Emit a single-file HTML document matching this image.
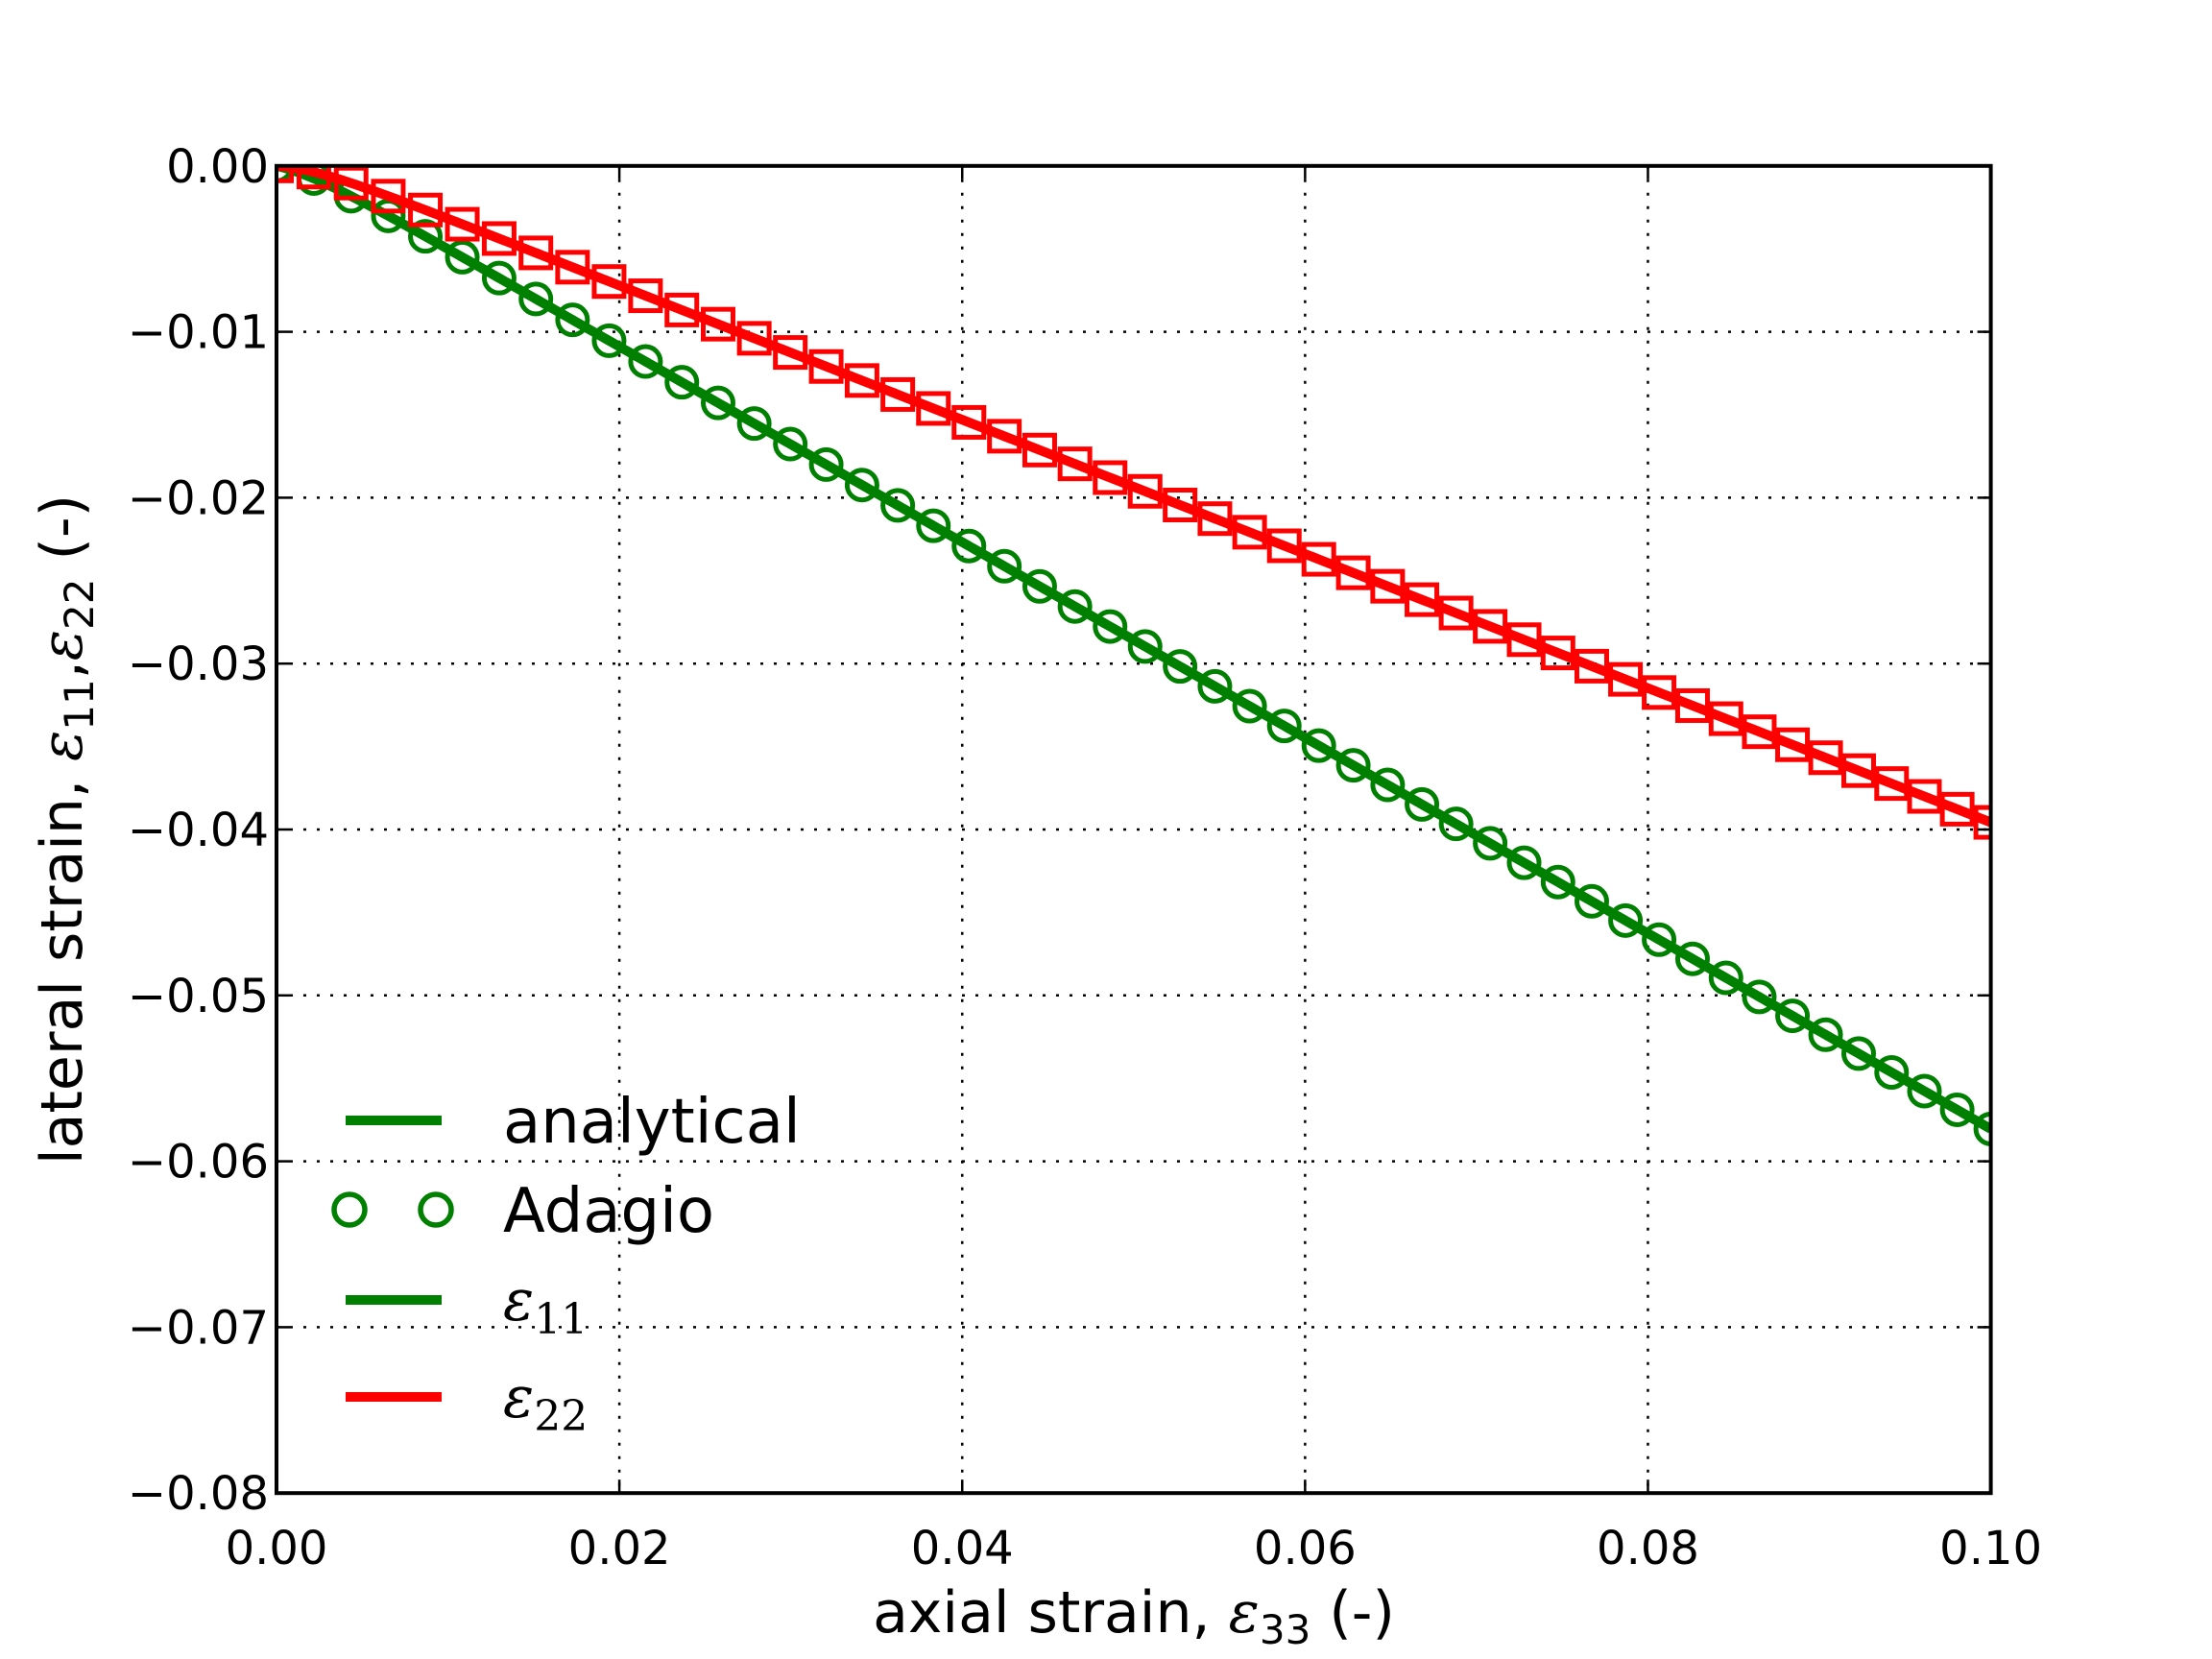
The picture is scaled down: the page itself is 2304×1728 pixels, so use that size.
<!DOCTYPE html>
<html><head><meta charset="utf-8"><style>
html,body{margin:0;padding:0;background:#fff;}
svg{display:block;}
text{font-family:"DejaVu Sans","Liberation Sans",sans-serif;}
.m{font-family:"DejaVu Serif","Liberation Serif",serif;font-style:italic;}
</style></head><body>
<svg id="s" width="2304" height="1728" viewBox="0 0 2304 1728" xmlns="http://www.w3.org/2000/svg">
<rect width="2304" height="1728" fill="#fff"/>
<g id="grid" stroke="#000" stroke-width="2.5" stroke-dasharray="3,11"></g>
<defs><clipPath id="c"><rect x="288" y="172.8" width="1785.6" height="1382.4"/></clipPath></defs>
<g id="data" clip-path="url(#c)"></g>
<rect x="288" y="172.8" width="1785.6" height="1382.4" fill="none" stroke="#000" stroke-width="4"/>
<g id="ticks" stroke="#000" stroke-width="2.5"></g>
<g id="labels" font-size="48" fill="#000"></g>
<!-- legend -->
<line x1="360" y1="1167" x2="460" y2="1167" stroke="#008000" stroke-width="10"/>
<circle cx="364" cy="1260" r="16" fill="none" stroke="#008000" stroke-width="5.5"/>
<circle cx="454" cy="1260" r="16" fill="none" stroke="#008000" stroke-width="5.5"/>
<line x1="360" y1="1354" x2="460" y2="1354" stroke="#008000" stroke-width="10"/>
<line x1="360" y1="1455" x2="460" y2="1455" stroke="#ff0000" stroke-width="10"/>
<text x="524" y="1190" font-size="64">analytical</text>
<text x="524" y="1283" font-size="64">Adagio</text>
<text x="524" y="1375" font-size="60" class="m">ε<tspan font-style="normal" font-size="44" dy="14">11</tspan></text>
<text x="524" y="1476" font-size="60" class="m">ε<tspan font-style="normal" font-size="44" dy="14">22</tspan></text>
<text x="1181" y="1700" font-size="60" text-anchor="middle">axial strain, <tspan class="m">ε</tspan><tspan font-size="42" dy="12">33</tspan><tspan dy="-12"> (-)</tspan></text>
<text transform="translate(85,864) rotate(-90)" font-size="60" text-anchor="middle">lateral strain, <tspan class="m">ε</tspan><tspan font-size="42" dy="12">11</tspan><tspan dy="-12">,</tspan><tspan class="m">ε</tspan><tspan font-size="42" dy="12">22</tspan><tspan dy="-12"> (-)</tspan></text>
</svg>
<script>
var NS="http://www.w3.org/2000/svg";
function el(p,t,a){var e=document.createElementNS(NS,t);for(var k in a)e.setAttribute(k,a[k]);p.appendChild(e);return e;}
var L=288,R=2073.6,T=172.8,B=1555.2;
function X(v){return L+(v/0.1)*(R-L);}
function Y(v){return T+(-v/0.08)*(B-T);}
var g=document.getElementById('grid'),tk=document.getElementById('ticks'),lb=document.getElementById('labels');
for(var i=0;i<=5;i++){var x=X(i*0.02);
 if(i>0&&i<5)el(g,'line',{x1:x,y1:T,x2:x,y2:B});
 el(tk,'line',{x1:x,y1:B,x2:x,y2:B-14});el(tk,'line',{x1:x,y1:T,x2:x,y2:T+14});
 var t=el(lb,'text',{x:x,y:1629,'text-anchor':'middle'});t.textContent=(i*0.02).toFixed(2);}
for(var j=0;j<=8;j++){var y=Y(-j*0.01);
 if(j>0&&j<8)el(g,'line',{x1:L,y1:y,x2:R,y2:y});
 el(tk,'line',{x1:L,y1:y,x2:L+14,y2:y});el(tk,'line',{x1:R,y1:y,x2:R-14,y2:y});
 var t=el(lb,'text',{x:280,y:y+17,'text-anchor':'end'});t.textContent=j==0?'0.00':'\u22120.0'+j;}
var d=document.getElementById('data');
function fg(x){return -0.5895*x+0.0009*(1-Math.exp(-x/0.0025));}
function fr(x){return -0.4045*x+0.00088*(1-Math.exp(-x/0.0025));}
function path(f,c){var s='';for(var k=0;k<=400;k++){var x=k*0.1/400;s+=(k?'L':'M')+X(x).toFixed(2)+','+Y(f(x)).toFixed(2);}
 el(d,'path',{d:s,fill:'none',stroke:c,'stroke-width':10,'stroke-linejoin':'round'});}
var xs=[],x=0;while(x<0.0995){xs.push(x);x+=0.00218-0.0028*x;}xs.push(0.1);
path(fg,'#008000');
xs.forEach(function(v){el(d,'circle',{cx:X(v),cy:Y(fg(v)),r:15.5,fill:'none',stroke:'#008000','stroke-width':5});});
path(fr,'#ff0000');
xs.forEach(function(v){el(d,'rect',{x:X(v)-15.5,y:Y(fr(v))-15.5,width:31,height:31,fill:'none',stroke:'#ff0000','stroke-width':5});});
</script>
</body></html>
